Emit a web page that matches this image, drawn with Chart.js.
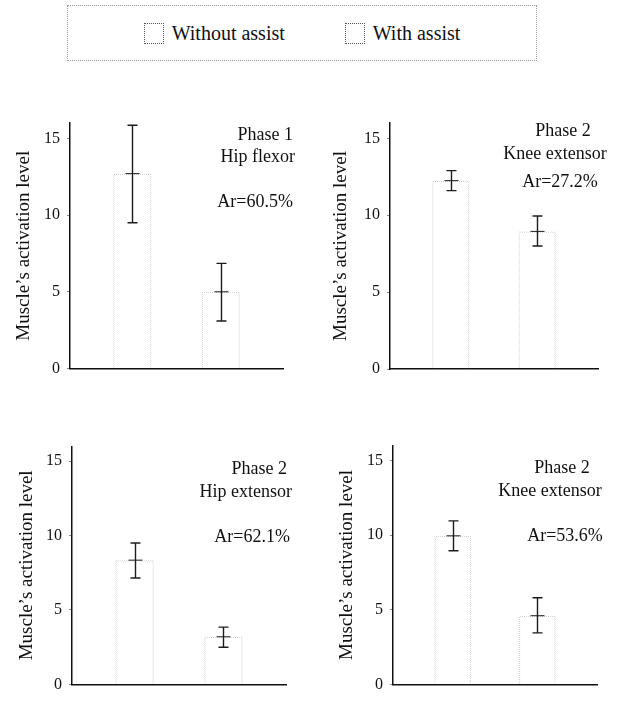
<!DOCTYPE html>
<html>
<head>
<meta charset="utf-8">
<script src="https://cdn.jsdelivr.net/npm/chart.js@4.4.1/dist/chart.umd.min.js"></script>
<style>
  body { margin: 0; background: #fff; width: 620px; height: 701px; position: relative; overflow: hidden; font-family: 'Liberation Serif', 'Times New Roman', 'DejaVu Serif', serif; }
  .legend { position: absolute; left: 67px; top: 5px; width: 468px; height: 54px; border: 1px dotted #9a9a9a; display: flex; align-items: center; justify-content: center; }
  .item { display: flex; align-items: center; font-size: 20px; color: #111; }
  .item + .item { margin-left: 60px; }
  .swatch { width: 18px; height: 19px; border: 1px dotted #555; margin-right: 8px; }
  .panel { position: absolute; width: 310px; }
</style>
</head>
<body>
<div class="legend" id="legend"></div>
<div class="panel" style="left:0;top:100px;height:290px"><canvas id="c0"></canvas></div>
<div class="panel" style="left:310px;top:100px;height:290px"><canvas id="c1"></canvas></div>
<div class="panel" style="left:0;top:410px;height:291px"><canvas id="c2"></canvas></div>
<div class="panel" style="left:310px;top:410px;height:291px"><canvas id="c3"></canvas></div>
<script>
// values
const seriesNames = ['Without assist', 'With assist'];
const phaseLabels = ['Phase 1', 'Phase 2', 'Phase 2', 'Phase 2'];
const muscleLabels = ['Hip flexor', 'Knee extensor', 'Hip extensor', 'Knee extensor'];
const arLabels = ['Ar=60.5%', 'Ar=27.2%', 'Ar=62.1%', 'Ar=53.6%'];
const yTicks = [0, 5, 10, 15];

const withoutMean = [12.7, 12.25, 8.35, 9.95];
const withoutLow  = [9.5, 11.6, 7.15, 8.95];
const withoutHigh = [15.85, 12.9, 9.5, 10.95];
const withMean = [5.0, 8.95, 3.2, 4.6];
const withLow  = [3.1, 8.0, 2.5, 3.45];
const withHigh = [6.85, 9.95, 3.85, 5.8];

const SERIF = "'Liberation Serif', 'Times New Roman', 'DejaVu Serif', serif";

// legend
document.getElementById('legend').innerHTML = seriesNames
  .map(n => '<div class="item"><div class="swatch"></div>' + n + '</div>').join('');

function dotPattern(ctx) {
  const c = document.createElement('canvas');
  c.width = 2; c.height = 2;
  const g = c.getContext('2d');
  g.fillStyle = 'rgba(120,120,120,0.45)';
  g.fillRect(0, 0, 1, 1); g.fillRect(1, 1, 1, 1);
  return ctx.createPattern(c, 'repeat');
}

const errorBars = {
  id: 'errorBars',
  afterDatasetsDraw(chart) {
    const { ctx, scales: { y } } = chart;
    ctx.save();
    ctx.strokeStyle = '#1c1c1c';
    chart.data.datasets.forEach((ds, i) => {
      const bar = chart.getDatasetMeta(i).data[0];
      const x = Math.round(bar.x) + 0.5;
      const lo = y.getPixelForValue(ds.errLow);
      const hi = y.getPixelForValue(ds.errHigh);
      const m = y.getPixelForValue(ds.data[0]);
      ctx.lineWidth = 1.4;
      ctx.beginPath();
      ctx.moveTo(x, lo); ctx.lineTo(x, hi);
      ctx.moveTo(x - 5, lo); ctx.lineTo(x + 5, lo);
      ctx.moveTo(x - 5, hi); ctx.lineTo(x + 5, hi);
      ctx.stroke();
      ctx.lineWidth = 1;
      ctx.beginPath();
      ctx.moveTo(x - 7, m); ctx.lineTo(x + 7, m);
      ctx.stroke();
    });
    ctx.restore();
  }
};

const notes = {
  id: 'notes',
  afterDraw(chart, args, o) {
    const { ctx, chartArea } = chart;
    ctx.save();
    ctx.fillStyle = '#111';
    ctx.font = '18px ' + SERIF;
    ctx.textBaseline = 'middle';
    o.lines.forEach((t, k) => {
      ctx.textAlign = o.align;
      ctx.fillText(t, chartArea.right + o.dx[k], chartArea.top + o.dy[k]);
    });
    ctx.restore();
  }
};

// per-panel layout
const layouts = [
  { padL: 13, yW: 57, padR: 27, padT: 23, padB: 21.5, align: 'right', dx: [10, 12, 10], dy: [12, 34, 79] },
  { padL: 20, yW: 60, padR: 22, padT: 23, padB: 21, align: 'center', dx: [-35, -43, -38], dy: [8, 31, 59] },
  { padL: 16, yW: 56, padR: 24, padT: 36.3, padB: 8.3, align: 'right', dx: [1, 6, 4], dy: [23, 46, 91] },
  { padL: 26, yW: 57, padR: 23, padT: 35.5, padB: 9.3, align: 'center', dx: [-35, -47, -32], dy: [23, 46, 91] }
];

layouts.forEach((L, i) => {
  const ctx = document.getElementById('c' + i).getContext('2d');
  const pat = dotPattern(ctx);
  new Chart(ctx, {
    type: 'bar',
    data: {
      labels: [''],
      datasets: [
        { label: seriesNames[0], data: [withoutMean[i]], errLow: withoutLow[i], errHigh: withoutHigh[i],
          backgroundColor: 'rgba(255,255,255,0)', borderColor: pat, borderWidth: 1 },
        { label: seriesNames[1], data: [withMean[i]], errLow: withLow[i], errHigh: withHigh[i],
          backgroundColor: 'rgba(255,255,255,0)', borderColor: pat, borderWidth: 1 }
      ]
    },
    options: {
      responsive: true,
      maintainAspectRatio: false,
      animation: false,
      categoryPercentage: 0.83,
      barPercentage: 0.43,
      layout: { padding: { left: L.padL, right: L.padR, top: L.padT, bottom: L.padB } },
      plugins: {
        legend: { display: false },
        tooltip: { enabled: false },
        notes: { lines: [phaseLabels[i], muscleLabels[i], arLabels[i]], align: L.align, dx: L.dx, dy: L.dy }
      },
      scales: {
        x: {
          ticks: { display: false },
          grid: { display: false },
          border: { color: '#111', width: 1.5 },
          afterFit: s => { s.height = 0; }
        },
        y: {
          min: 0, max: 16,
          afterBuildTicks: s => { s.ticks = yTicks.map(v => ({ value: v })); },
          afterFit: s => { s.width = L.yW; },
          ticks: { color: '#111', padding: 7, font: { family: SERIF, size: 16 } },
          grid: { drawOnChartArea: false, tickLength: 3, color: '#888' },
          border: { color: '#111', width: 1.5 },
          title: { display: true, text: 'Muscle’s activation level', color: '#111', padding: 0,
                   font: { family: SERIF, size: 19 } }
        }
      }
    },
    plugins: [errorBars, notes]
  });
});
</script>
</body>
</html>
